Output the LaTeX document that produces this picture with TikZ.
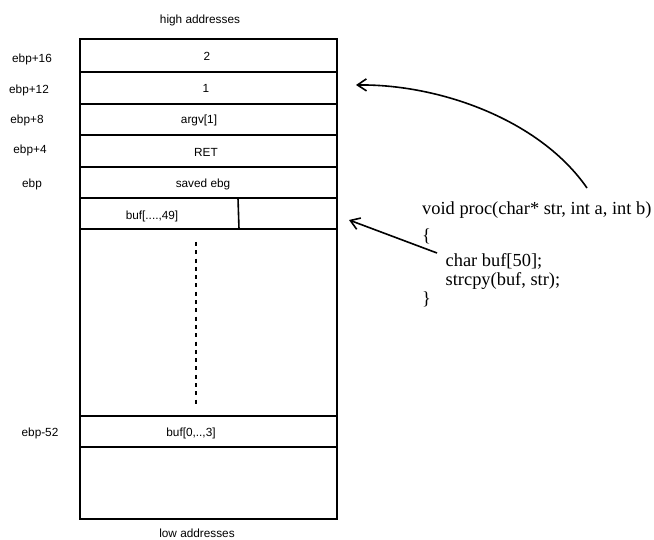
\documentclass[tikz,border=0pt]{standalone}
\usepackage{fontspec}
\setmainfont{Liberation Sans}
\newfontfamily\codefont{Liberation Serif}
\usetikzlibrary{arrows.meta}
\begin{document}
\begin{tikzpicture}[x=1pt,y=-1pt,
  frame/.style={line width=1.8pt},
  sep/.style={line width=1.6pt},
  lbl/.style={inner sep=0pt,font=\fontsize{11.8}{13}\selectfont},
  code/.style={inner sep=0pt,anchor=base west,font=\codefont\fontsize{18.4}{21}\selectfont},
  ptr/.style={line width=1.6pt,-{Straight Barb[length=9pt,width=12pt,line width=1.6pt]}}]
\useasboundingbox (0,0) rectangle (654,540);
% stack frame
\draw[frame] (80,39) rectangle (337,519);
\foreach \y in {72,104,135,167,198,229,416,447}
  \draw[sep] (80,\y) -- (337,\y);
\draw[sep] (238,198) -- (239,229);
\draw[line width=2.5pt,dash pattern=on 4pt off 4.3pt] (196,242) -- (196,406);
% cell texts
\node[lbl] (v2) at (207,56.7) {2};
\node[lbl] (v1) at (206,88.7) {1};
\node[lbl] (varg) at (199,120) {argv[1]};
\node[lbl] (vret) at (206,152.7) {RET};
\node[lbl] (vebp) at (203,184) {saved ebg};
\node[lbl] (vbuf) at (152,216.7) {buf[....,49]};
\node[lbl] (vbuf0) at (191,433) {buf[0,..,3]};
% offsets
\node[lbl] (o16) at (32,59) {ebp+16};
\node[lbl] (o12) at (29,90.7) {ebp+12};
\node[lbl] (o8) at (27,120) {ebp+8};
\node[lbl] (o4) at (30,150.7) {ebp+4};
\node[lbl] (o0) at (32,184) {ebp};
\node[lbl] (om52) at (40,433) {ebp-52};
% addresses
\node[lbl,anchor=base] (hi) at (200,24) {high addresses};
\node[lbl,anchor=base] (lo) at (197,537) {low addresses};
% code
\node[code] (l1) at (422,215) {void proc(char* str, int a, int b)};
\node[code] (l2) at (422,241.5) {\{};
\node[code] (l3) at (445.5,266.5) {char buf[50];};
\node[code] (l4) at (445.5,286) {strcpy(buf, str);};
\node[code] (l5) at (422,304.5) {\}};
% arrows
\coordinate (s1) at (587,188);
\coordinate (t1) at (356,85);
\coordinate (s2) at (437,253);
\coordinate (t2) at (349,220);
\draw[ptr] (s1) .. controls (540,120) and (440,84) .. (t1);
\draw[ptr] (s2) -- (t2);
\end{tikzpicture}
\end{document}
